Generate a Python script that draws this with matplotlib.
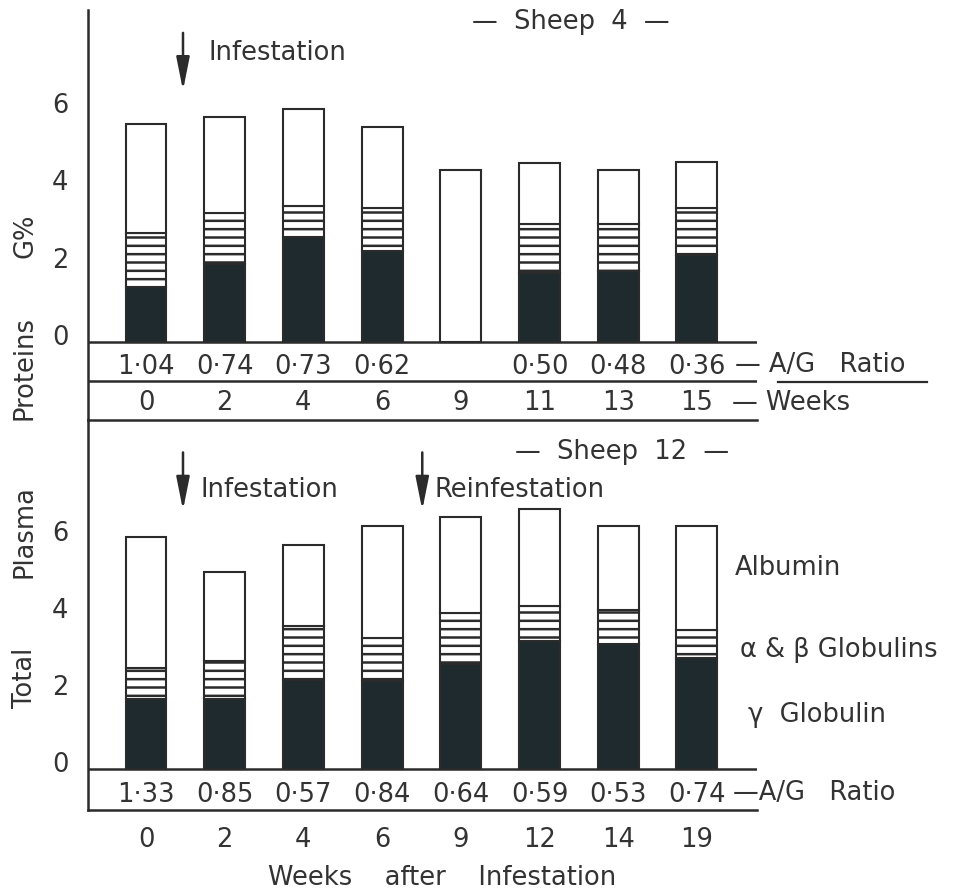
import numpy as np
import matplotlib
matplotlib.use('Agg')
import matplotlib.pyplot as plt
from matplotlib.lines import Line2D
from matplotlib.transforms import ScaledTranslation

# Data (G% of plasma protein fractions)
weeks_s4 = ['0', '2', '4', '6', '9', '11', '13', '15']
gamma_s4 = [1.42, 2.02, 2.71, 2.35, 0.0, 1.78, 1.83, 2.25]
alphabeta_s4 = [1.40, 1.31, 0.80, 1.11, 0.0, 1.27, 1.22, 1.21]
albumin_s4 = [2.81, 2.48, 2.51, 2.10, 4.44, 1.58, 1.39, 1.19]
ratio_s4 = ['1·04', '0·74', '0·73', '0·62', '', '0·50', '0·48', '0·36']

weeks_s12 = ['0', '2', '4', '6', '9', '12', '14', '19']
gamma_s12 = [1.82, 1.82, 2.31, 2.29, 2.73, 3.32, 3.25, 2.88]
alphabeta_s12 = [0.80, 0.99, 1.40, 1.11, 1.32, 0.91, 0.88, 0.73]
albumin_s12 = [3.41, 2.31, 2.11, 2.91, 2.50, 2.52, 2.18, 2.70]
ratio_s12 = ['1·33', '0·85', '0·57', '0·84', '0·64', '0·59', '0·53', '0·74']

ink = '#2b2b2b'
dark = '#1f2a2e'
txt = '#333333'
fs = 18.5

plt.rcParams['font.family'] = ['DejaVu Sans']
plt.rcParams['hatch.linewidth'] = 1.8

W, H = 977, 890
fig = plt.figure(figsize=(W / 100, H / 100), dpi=100)


def fxy(px, py):
    return px / W, 1 - py / H


def add_axes(top, bottom):
    l, t = fxy(88, top)
    r, b = fxy(757, bottom)
    return fig.add_axes([l, b, r - l, t - b])


ax1 = add_axes(10, 420)
ax2 = add_axes(420, 810)


def draw_bars(ax, gamma, ab, alb):
    x = np.arange(len(gamma))
    g = np.array(gamma)
    a = np.array(ab)
    ax.bar(x, g, width=0.52, color=dark, edgecolor=ink, linewidth=1.5, zorder=2)
    ax.bar(x, a, bottom=g, width=0.52, color='white', edgecolor=ink,
           hatch='--', linewidth=1.5, zorder=2)
    ax.bar(x, alb, bottom=g + a, width=0.52, color='white', edgecolor=ink,
           linewidth=1.5, zorder=2)
    return x


for ax in (ax1, ax2):
    ax.patch.set_visible(False)
    ax.set_xlim(-0.737, 7.763)
    for s in ('top', 'right'):
        ax.spines[s].set_visible(False)
    for s in ('left', 'bottom'):
        ax.spines[s].set_linewidth(1.8)
        ax.spines[s].set_color(ink)
    ax.axhline(0, color=ink, lw=1.8, zorder=3)
    ax.set_yticks([0, 2, 4, 6])
    ax.tick_params(axis='y', length=0, pad=14, labelsize=fs, labelcolor=txt)
    ax.tick_params(axis='x', length=0)
    off = ScaledTranslation(0, 0.07, fig.dpi_scale_trans)
    for lab in ax.get_yticklabels():
        lab.set_transform(lab.get_transform() + off)

# ---- Sheep 4 ----
ax1.set_ylim(-2.02, 8.58)
x1 = draw_bars(ax1, gamma_s4, alphabeta_s4, albumin_s4)
ax1.axhline(-1.0, color=ink, lw=1.8)
ax1.set_xticks([])
for xi, r, w in zip(x1, ratio_s4, weeks_s4):
    ax1.text(xi, -0.646, r, ha='center', va='center', fontsize=fs, color=txt)
    ax1.text(xi, -1.576, w, ha='center', va='center', fontsize=fs, color=txt)
ax1.annotate('', xy=(0.47, 6.43), xytext=(0.47, 8.06),
             arrowprops=dict(arrowstyle='-|>,head_width=0.2,head_length=1.0',
                             color=ink, lw=1.8, mutation_scale=20))
ax1.text(0.79, 7.47, 'Infestation', ha='left', va='center', fontsize=fs, color=txt)

fig.text(*fxy(571, 22), '—  Sheep  4  —', ha='center', va='center', fontsize=fs, color=txt)
fig.text(*fxy(735, 365), '— A/G   Ratio', ha='left', va='center', fontsize=fs, color=txt)
fig.add_artist(Line2D([778 / W, 927 / W], [1 - 382 / H, 1 - 382 / H], color=ink, lw=1.6))
fig.text(*fxy(732, 403), '— Weeks', ha='left', va='center', fontsize=fs, color=txt)

# ---- Sheep 12 ----
ax2.set_ylim(-1.06, 9.06)
x2 = draw_bars(ax2, gamma_s12, alphabeta_s12, albumin_s12)
ax2.set_xticks(x2)
ax2.set_xticklabels(weeks_s12, fontsize=fs, color=txt)
ax2.tick_params(axis='x', pad=12)
for xi, r in zip(x2, ratio_s12):
    ax2.text(xi, -0.675, r, ha='center', va='center', fontsize=fs, color=txt)
for xa in (0.47, 3.51):
    ax2.annotate('', xy=(xa, 6.65), xytext=(xa, 8.29),
                 arrowprops=dict(arrowstyle='-|>,head_width=0.2,head_length=1.0',
                                 color=ink, lw=1.8, mutation_scale=20))
ax2.text(0.69, 7.25, 'Infestation', ha='left', va='center', fontsize=fs, color=txt)
ax2.text(3.67, 7.25, 'Reinfestation', ha='left', va='center', fontsize=fs, color=txt)

fig.text(*fxy(622, 452), '—  Sheep  12  —', ha='center', va='center', fontsize=fs, color=txt)
fig.text(*fxy(733, 793), '—A/G   Ratio', ha='left', va='center', fontsize=fs, color=txt)
fig.text(*fxy(735, 568), 'Albumin', ha='left', va='center', fontsize=fs, color=txt)
fig.text(*fxy(740, 650), 'α & β Globulins', ha='left', va='center', fontsize=fs, color=txt)
fig.text(*fxy(748, 715), 'γ  Globulin', ha='left', va='center', fontsize=fs, color=txt)
fig.text(*fxy(442, 878), 'Weeks    after    Infestation', ha='center', va='center',
         fontsize=fs, color=txt)

# y label, words spread along the left edge
for word, py in zip(['Total', 'Plasma', 'Proteins', 'G%'], [678, 532, 368, 236]):
    fig.text(*fxy(25, py), word, rotation=90, ha='center', va='center',
             fontsize=fs, color=txt)

fig.savefig('out.png', dpi=100, facecolor='white')
